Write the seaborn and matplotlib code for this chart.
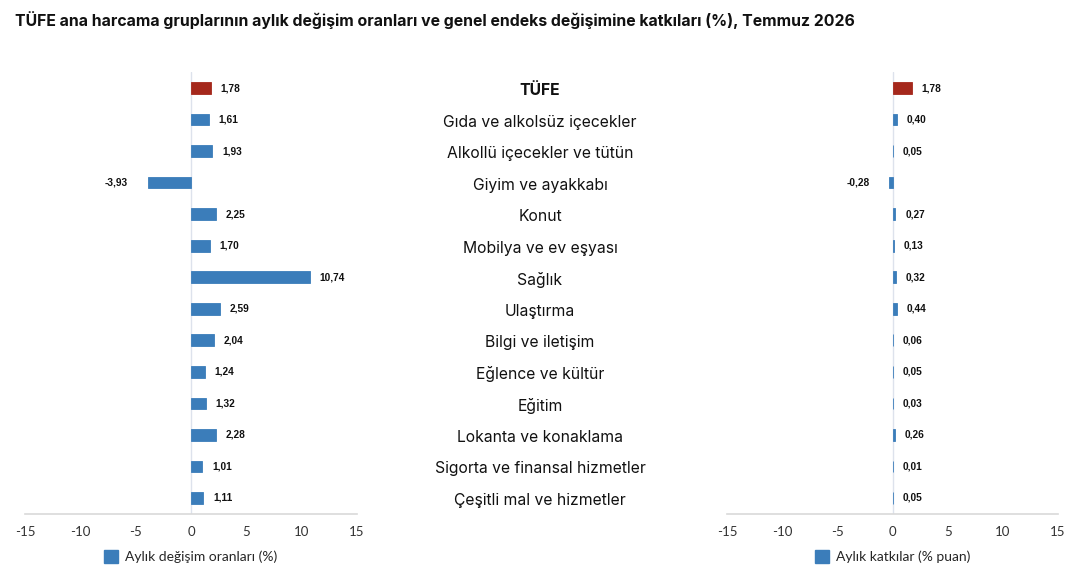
import matplotlib
matplotlib.use("Agg")
import matplotlib.pyplot as plt
from matplotlib.patches import Patch
from matplotlib.transforms import blended_transform_factory
import seaborn as sns
import pandas as pd

categories = [
    "TÜFE",
    "Gıda ve alkolsüz içecekler",
    "Alkollü içecekler ve tütün",
    "Giyim ve ayakkabı",
    "Konut",
    "Mobilya ve ev eşyası",
    "Sağlık",
    "Ulaştırma",
    "Bilgi ve iletişim",
    "Eğlence ve kültür",
    "Eğitim",
    "Lokanta ve konaklama",
    "Sigorta ve finansal hizmetler",
    "Çeşitli mal ve hizmetler",
]
monthly_change = [1.78, 1.61, 1.93, -3.93, 2.25, 1.70, 10.74, 2.59, 2.04, 1.24, 1.32, 2.28, 1.01, 1.11]
contribution = [1.78, 0.40, 0.05, -0.28, 0.27, 0.13, 0.32, 0.44, 0.06, 0.05, 0.03, 0.26, 0.01, 0.05]
x_ticks = [-15, -10, -5, 0, 5, 10, 15]
title = "TÜFE ana harcama gruplarının aylık değişim oranları ve genel endeks değişimine katkıları (%), Temmuz 2026"
legend_left = "Aylık değişim oranları (%)"
legend_right = "Aylık katkılar (% puan)"

BLUE = "#3b7dba"
RED = "#a5281c"

sns.set_theme(style="white")
plt.rcParams["font.family"] = ["Inter", "DejaVu Sans"]

df = pd.DataFrame({
    "cat": categories,
    "change": monthly_change,
    "contrib": contribution,
    "grp": ["total"] + ["group"] * (len(categories) - 1),
})
palette = {"total": RED, "group": BLUE}

fig = plt.figure(figsize=(10.83, 5.85), dpi=100)
W, H = 1083, 585
ax_bottom = (H - 513.75) / H
ax_h = (513.75 - 72.25) / H
ax1 = fig.add_axes([25 / W, ax_bottom, 332 / W, ax_h])
ax2 = fig.add_axes([727 / W, ax_bottom, 331 / W, ax_h])


def draw(ax, col, leg_text):
    sns.barplot(data=df, y="cat", x=col, hue="grp", palette=palette, orient="h",
                dodge=False, width=0.37, ax=ax, legend=False, saturation=1)
    for p in ax.patches:
        p.set_edgecolor(p.get_facecolor())
        p.set_linewidth(0.6)
    ax.set_xlim(-15, 15)
    ax.set_ylim(len(categories) - 0.5, -0.5)
    ax.set_xticks(x_ticks)
    ax.set_xticklabels([str(t) for t in x_ticks], fontfamily="Lato", fontsize=9.5, color="#333333")
    ax.set_yticks([])
    ax.set_xlabel("")
    ax.set_ylabel("")
    for s in ["top", "left", "right"]:
        ax.spines[s].set_visible(False)
    ax.spines["bottom"].set_color("#d9d9d9")
    ax.spines["bottom"].set_linewidth(1.2)
    ax.tick_params(axis="x", length=0, pad=9)
    ax.axvline(0, color="#dde2ec", lw=1, zorder=0)
    vals = df[col].tolist()
    for i, v in enumerate(vals):
        txt = f"{v:.2f}".replace(".", ",")
        if v >= 0:
            ax.annotate(txt, (v, i), xytext=(7, 0), textcoords="offset points",
                        ha="left", va="center", fontsize=7.3, fontweight="bold",
                        fontfamily="Liberation Sans", color="#111111")
        else:
            ax.annotate(txt, (v, i), xytext=(-14, 0), textcoords="offset points",
                        ha="right", va="center", fontsize=7.3, fontweight="bold",
                        fontfamily="Liberation Sans", color="#111111")
    handle = Patch(facecolor=BLUE, edgecolor=BLUE)
    ax.legend([handle], [leg_text], loc="center", bbox_to_anchor=(0.5, -0.097),
              frameon=False, handlelength=1.0, handleheight=1.0, handletextpad=0.5,
              prop={"family": "Lato", "size": 10})


draw(ax1, "change", legend_left)
draw(ax2, "contrib", legend_right)

# category labels in the middle
tr = blended_transform_factory(fig.transFigure, ax1.transData)
for i, c in enumerate(categories):
    ax1.text(540 / W, i + 0.08, c, transform=tr, ha="center", va="center",
             fontsize=11.3, color="#111111",
             fontweight="bold" if i == 0 else "normal", clip_on=False)

fig.text(15 / W, 1 - 20 / H, title, ha="left", va="center", fontsize=11.4,
         fontweight="bold", color="#111111")

fig.savefig("out.png", dpi=100)
